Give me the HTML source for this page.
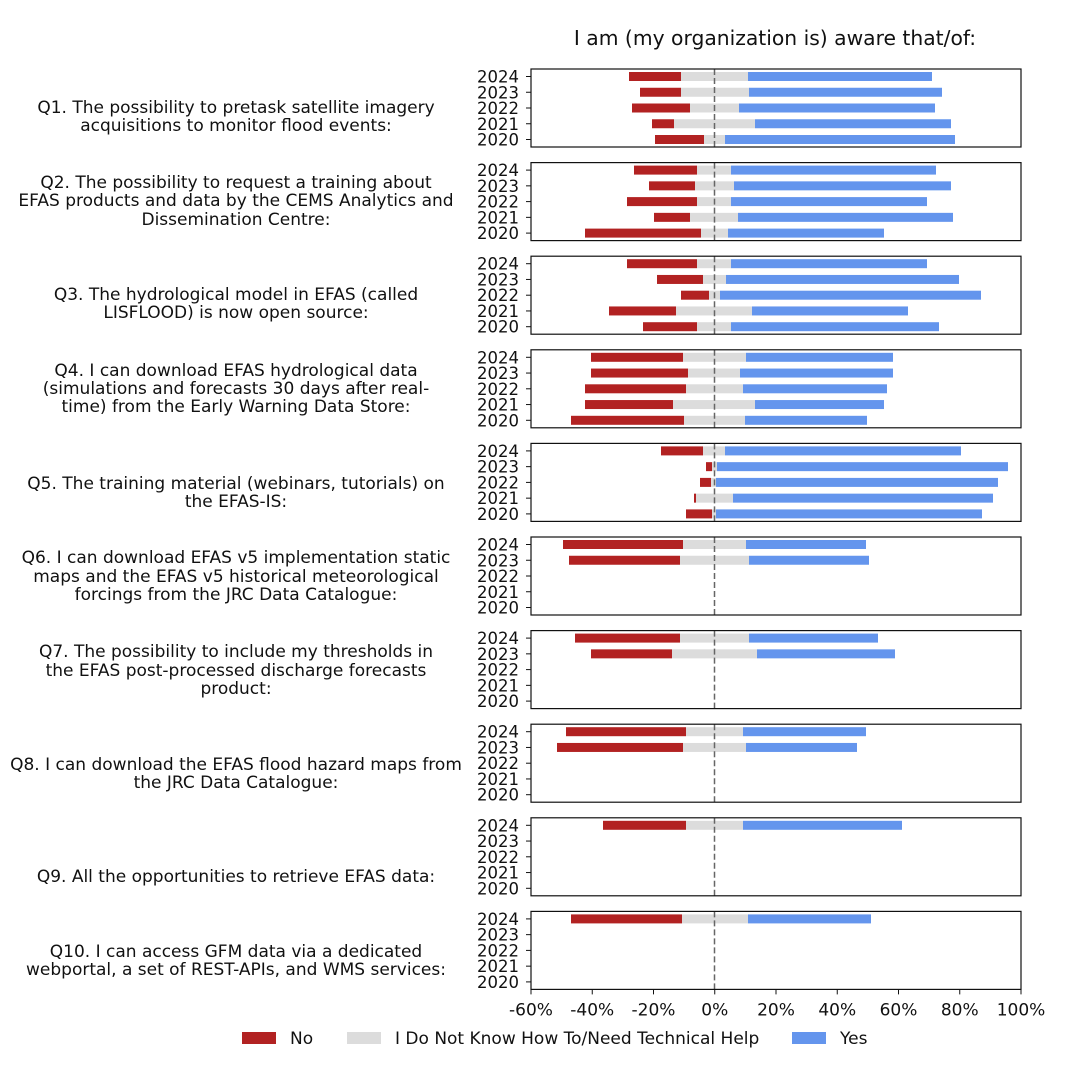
<!DOCTYPE html>
<html><head><meta charset="utf-8"><style>
body{margin:0;background:#fff}
svg{display:block;font-family:"DejaVu Sans","Liberation Sans",sans-serif}
</style></head><body>
<svg id="s" width="1072" height="1074" xmlns="http://www.w3.org/2000/svg">
<rect width="1072" height="1074" fill="#fff"/>
<text x="775" y="45" font-size="20.3" text-anchor="middle" fill="#111">I am (my organization is) aware that/of:</text>
</svg>
<script>
const s=document.getElementById('s');const NS='http://www.w3.org/2000/svg';
function el(t,a,txt){const e=document.createElementNS(NS,t);for(const k in a)e.setAttribute(k,a[k]);if(txt!=null)e.textContent=txt;s.appendChild(e);return e;}
const data=[
[[629,681,748,932],[640,681,749,942],[632,690,739,935],[652,674,755,951],[655,704,725,955]],
[[634,697,731,936],[649,695,734,951],[627,697,731,927],[654,690,738,953],[585,701,728,884]],
[[627,697,731,927],[657,703,726,959],[681,709,720,981],[609,676,752,908],[643,697,731,939]],
[[591,683,746,893],[591,688,740,893],[585,686,743,887],[585,673,755,884],[571,684,745,867]],
[[661,703,725,961],[706,712,717,1008],[700,711,716,998],[694,696,733,993],[686,712,716,982]],
[[563,683,746,866],[569,680,749,869]],
[[575,680,749,878],[591,672,757,895]],
[[566,686,743,866],[557,683,746,857]],
[[603,686,743,902]],
[[571,682,748,871]]];
const labels=[
[["Q1. The possibility to pretask satellite imagery",113],["acquisitions to monitor flood events:",131]],
[["Q2. The possibility  to request a training about",188],["EFAS products and data by the CEMS Analytics and",206],["Dissemination Centre:",225]],
[["Q3. The hydrological model in EFAS (called",300],["LISFLOOD) is now open source:",318]],
[["Q4. I can download EFAS hydrological data",376],["(simulations and forecasts 30 days after real-",394],["time) from the Early Warning Data Store:",412]],
[["Q5. The training material (webinars, tutorials) on",489],["the EFAS-IS:",507]],
[["Q6. I can download EFAS v5 implementation static",563],["maps and the EFAS v5 historical meteorological",582],["forcings from the JRC Data Catalogue:",600]],
[["Q7. The possibility to include my thresholds in",657],["the EFAS post-processed discharge forecasts",676],["product:",694]],
[["Q8. I can download the EFAS flood hazard maps from",770],["the JRC Data Catalogue:",788]],
[["Q9. All the opportunities to retrieve EFAS data:",882]],
[["Q10. I can access GFM data via a dedicated",957],["webportal, a set of REST-APIs, and WMS services:",975]]];
const L=531,R=1021,Z=714.5;
for(let p=0;p<10;p++){
 const top=69+p*93.6;
 const years=['2024','2023','2022','2021','2020'];
 data[p].forEach((b,i)=>{const y=top+7.5+i*15.75-4.5;
  el('rect',{x:b[0],y:y,width:b[1]-b[0],height:9,fill:'#b22222'});
  el('rect',{x:b[1],y:y,width:b[2]-b[1],height:9,fill:'#dcdcdc'});
  el('rect',{x:b[2],y:y,width:b[3]-b[2],height:9,fill:'#6495ed'});});
 el('line',{x1:Z,x2:Z,y1:top,y2:top+78,stroke:'#666','stroke-width':1.5,'stroke-dasharray':'6,3'});
 el('rect',{x:L,y:top,width:R-L,height:78,fill:'none',stroke:'#111','stroke-width':1.2});
 years.forEach((yr,i)=>{const y=top+7.5+i*15.75;
  el('line',{x1:L-5,x2:L,y1:y,y2:y,stroke:'#111'});
  el('text',{x:L-12,y:y+6,'font-size':16.5,'text-anchor':'end',fill:'#111'},yr);});
 labels[p].forEach(l=>el('text',{x:236,y:l[1],'font-size':17,'text-anchor':'middle',fill:'#111'},l[0]));
}
const bt=69+9*93.6+78;
['-60%','-40%','-20%','0%','20%','40%','60%','80%','100%'].forEach((t,i)=>{const x=L+i*61.25;
 el('line',{x1:x,x2:x,y1:bt,y2:bt+5,stroke:'#111'});
 el('text',{x:x,y:bt+26,'font-size':17,'text-anchor':'middle',fill:'#111'},t);});
[[242,'#b22222',290,'No'],[347,'#dcdcdc',395,'I Do Not Know How To/Need Technical Help'],[792,'#6495ed',840,'Yes']].forEach(g=>{
 el('rect',{x:g[0],y:1032,width:34,height:12,fill:g[1]});
 el('text',{x:g[2],y:1044,'font-size':17,fill:'#111'},g[3]);});
</script>
</body></html>
